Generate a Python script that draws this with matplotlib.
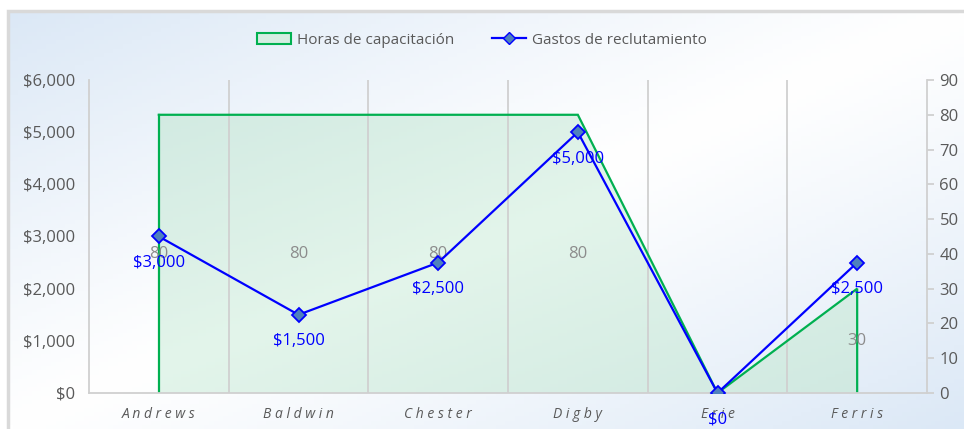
import numpy as np
import matplotlib.pyplot as plt
import matplotlib as mpl
from matplotlib.path import Path
from matplotlib.patches import PathPatch, Rectangle
from matplotlib.lines import Line2D
from matplotlib.ticker import FuncFormatter, MultipleLocator

mpl.rc("font", family=["Open Sans", "DejaVu Sans"], size=11)

# ----- data -----
categories = ["Andrews", "Baldwin", "Chester", "Digby", "Erie", "Ferris"]
horas = [80, 80, 80, 80, 0, 30]
gastos = [3000, 1500, 2500, 5000, 0, 2500]

grey_txt = "#595959"
green = "#00B050"
blue = "#0000FF"
grid_c = "#d0d0d0"

W, H = 964, 429
fig = plt.figure(figsize=(W / 100, H / 100), dpi=100)
fig.patch.set_facecolor("white")

# background gradient panel (border on top and left only)
bg = fig.add_axes([8 / W, 0, 1 - 8 / W, (H - 11) / H], zorder=-10)
gx, gy = np.meshgrid(np.linspace(0, 1, 200), np.linspace(0, 1, 100))
d = np.abs((gx + gy) / 2 - 0.5) * 2
c0 = np.array([1.0, 1.0, 1.0])
c1 = np.array([0.86, 0.91, 0.965])
img = c0 + (c1 - c0) * np.clip(d, 0, 1)[..., None] ** 1.1
bg.imshow(img, extent=[0, 1, 0, 1], aspect="auto", origin="upper")
bg.set_xlim(0, 1)
bg.set_ylim(0, 1)
bg.axis("off")
bg.plot([0, 0, 1], [0, 1, 1], transform=bg.transAxes, color="#d9d9d9",
        lw=2.5, clip_on=False, solid_joinstyle="miter")

ax = fig.add_axes([89 / W, 36 / H, (927 - 89) / W, (393 - 80) / H])
ax2 = ax.twinx()
x = np.arange(len(categories))

# area (secondary axis)
verts = [(x[0], 0)] + list(zip(x, horas)) + [(x[-1], 0), (x[0], 0)]
codes = [Path.MOVETO] + [Path.LINETO] * (len(verts) - 2) + [Path.CLOSEPOLY]
area_path = Path(verts, codes)
patch = PathPatch(area_path, facecolor="none", edgecolor="none")
ax2.add_patch(patch)
gx2, gy2 = np.meshgrid(np.linspace(0, 1, 100), np.linspace(0, 1, 100))
t = np.abs((gx2 + gy2) / 2 - 0.5) * 2
a0 = np.array([0.89, 0.96, 0.92])
a1 = np.array([0.81, 0.91, 0.88])
aimg = a0 + (a1 - a0) * t[..., None]
im = ax2.imshow(aimg, extent=[-0.5, 5.5, 0, 90], aspect="auto", origin="upper", zorder=1)
im.set_clip_path(patch)
ax2.plot(list(x) + [x[-1]], horas + [0], color=green, lw=1.6, zorder=3,
         solid_joinstyle="miter")
ax2.plot([x[0], x[0]], [0, horas[0]], color=green, lw=1.6, zorder=3)

for xi, h in zip(x, horas):
    if h > 0:
        ax2.text(xi, h / 2, f"{h}", ha="center", va="center", color="#8c8c8c",
                 fontsize=12, zorder=4)

# vertical gridlines between categories
for b in np.arange(0.5, len(categories) - 0.5, 1):
    ax2.axvline(b, color=grid_c, lw=1.3, zorder=2)

# line (primary axis)
ax.set_zorder(ax2.get_zorder() + 1)
ax.patch.set_visible(False)
ax.plot(x, gastos, color=blue, lw=1.6, marker="D", markersize=7,
        markerfacecolor="#4F81BD", markeredgecolor=blue, markeredgewidth=1.3, zorder=5)
for xi, g in zip(x, gastos):
    ax.annotate(f"${g:,.0f}", (xi, g), xytext=(0, -19), textcoords="offset points",
                ha="center", va="center", color=blue, fontsize=12,
                annotation_clip=False, zorder=6)

ax.set_xlim(-0.5, 5.5)
ax.set_ylim(0, 6000)
ax2.set_ylim(0, 90)
ax.yaxis.set_major_locator(MultipleLocator(1000))
ax.yaxis.set_major_formatter(FuncFormatter(lambda v, p: f"${v:,.0f}"))
ax2.yaxis.set_major_locator(MultipleLocator(10))

ax.set_xticks(x)
ax.set_xticklabels([" ".join(c) for c in categories], style="italic",
                   color=grey_txt, fontsize=10)
ax.tick_params(axis="x", length=0, pad=10)
ax.tick_params(axis="y", length=0, labelcolor=grey_txt, labelsize=12, pad=10)
ax2.tick_params(axis="y", length=5, color=grid_c, width=1.3,
                labelcolor=grey_txt, labelsize=12, pad=4)

for a in (ax, ax2):
    for s in a.spines.values():
        s.set_visible(False)
for a, side in ((ax, "left"), (ax, "bottom"), (ax2, "right")):
    a.spines[side].set_visible(True)
    a.spines[side].set_color(grid_c)
    a.spines[side].set_linewidth(1.3)

# legend
handles = [
    Rectangle((0, 0), 1, 1, facecolor="#d5ede2", edgecolor=green, linewidth=1.5),
    Line2D([], [], color=blue, lw=1.6, marker="D", markersize=6,
           markerfacecolor="#4F81BD", markeredgecolor=blue),
]
fig.legend(handles, ["Horas de capacitación", "Gastos de reclutamiento"],
           loc="center", bbox_to_anchor=(0.5, (H - 40) / H), ncol=2, frameon=False,
           fontsize=11, labelcolor=grey_txt, handlelength=2.2, columnspacing=2.5,
           handletextpad=0.4)

fig.savefig("out.png", dpi=100)
